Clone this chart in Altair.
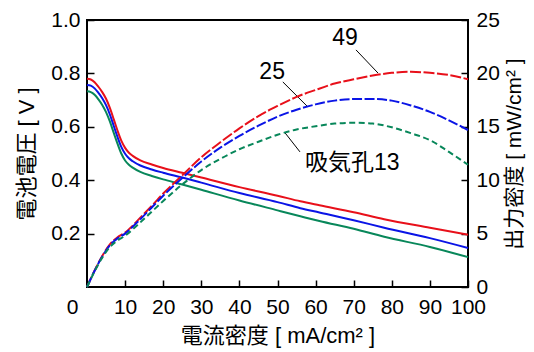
import altair as alt
import pandas as pd

FONT = "Liberation Sans, Arial, Noto Sans CJK JP, sans-serif"

series = ["49", "25", "13"]
colors = ["#e8101a", "#0a14e6", "#08875a"]
dashes = [[11, 2.5], [10, 2.5], [6, 3.5]]

current_v = [0, 1, 2, 3, 4, 5, 6, 7, 8, 9, 10, 11, 12, 14, 17, 20, 25, 30, 40, 50, 56, 61, 70, 78, 90, 100]
volt_49 = [0.780, 0.777, 0.767, 0.750, 0.730, 0.705, 0.671, 0.629, 0.586, 0.548, 0.521, 0.503, 0.491, 0.474,
           0.459, 0.446, 0.428, 0.410, 0.374, 0.342, 0.321, 0.306, 0.280, 0.254, 0.222, 0.196]
volt_25 = [0.757, 0.754, 0.744, 0.727, 0.707, 0.681, 0.646, 0.604, 0.562, 0.525, 0.499, 0.482, 0.471, 0.455,
           0.440, 0.428, 0.410, 0.391, 0.352, 0.318, 0.295, 0.279, 0.250, 0.222, 0.183, 0.146]
volt_13 = [0.733, 0.730, 0.720, 0.703, 0.682, 0.655, 0.620, 0.578, 0.537, 0.500, 0.474, 0.458, 0.447, 0.431,
           0.416, 0.403, 0.384, 0.364, 0.324, 0.287, 0.265, 0.247, 0.218, 0.188, 0.150, 0.112]

current_p = [0, 2, 4, 6, 8, 10, 12, 14, 17, 20, 25, 30, 35, 40, 45, 50, 55, 60, 65, 70, 75, 80, 85, 90, 95, 100]
power_49 = [0, 1.55, 2.9, 4.0, 4.65, 5.1, 5.75, 6.5, 7.6, 8.75, 10.45, 12.15, 13.55, 14.85, 16.0, 16.95,
            17.8, 18.45, 19.05, 19.45, 19.8, 20.05, 20.15, 20.05, 19.85, 19.45]
power_25 = [0, 1.52, 2.85, 3.9, 4.55, 5.0, 5.65, 6.35, 7.45, 8.55, 10.2, 11.75, 13.05, 14.15, 15.1, 15.95,
            16.6, 17.1, 17.45, 17.6, 17.6, 17.45, 17.0, 16.4, 15.6, 14.7]
power_13 = [0, 1.47, 2.75, 3.75, 4.35, 4.8, 5.4, 6.05, 7.05, 8.05, 9.6, 10.95, 12.0, 12.9, 13.6, 14.25,
            14.75, 15.05, 15.3, 15.38, 15.3, 14.95, 14.4, 13.75, 12.65, 11.45]

label_text = ["49", "25", "吸気孔13"]
label_x = [67.7, 48.6, 69.6]
label_y = [0.933, 0.805, 0.464]
leader_x1 = [70.6, 51.4, 52.0]
leader_y1 = [0.888, 0.768, 0.577]
leader_x2 = [76.4, 58.0, 55.9]
leader_y2 = [0.801, 0.674, 0.506]

x_ticks = [0, 10, 20, 30, 40, 50, 60, 70, 80, 90, 100]
v_ticks = [0.2, 0.4, 0.6, 0.8, 1.0]
p_ticks = [0, 5, 10, 15, 20, 25]

nv = len(current_v)
npw = len(current_p)
volt_df = pd.DataFrame({
    "current": current_v * 3,
    "value": volt_49 + volt_25 + volt_13,
    "series": ["49"] * nv + ["25"] * nv + ["13"] * nv,
})
power_df = pd.DataFrame({
    "current": current_p * 3,
    "value": power_49 + power_25 + power_13,
    "series": ["49"] * npw + ["25"] * npw + ["13"] * npw,
})
label_df = pd.DataFrame({"text": label_text, "x": label_x, "y": label_y})
leader_df = pd.DataFrame({"x1": leader_x1, "y1": leader_y1, "x2": leader_x2, "y2": leader_y2})

xscale = alt.Scale(domain=[0, 100], nice=False, zero=False)
vscale = alt.Scale(domain=[0, 1], nice=False)
pscale = alt.Scale(domain=[0, 25], nice=False)

common = dict(
    labelFont=FONT, titleFont=FONT, labelFontSize=21,
    labelColor="black", titleColor="black", tickColor="black", tickWidth=1.5,
    titleFontWeight="normal", domain=False, grid=False, tickSize=7, offset=-7,
    labelFlush=False, labelOverlap=False,
)

x_axis = alt.Axis(
    values=x_ticks, title="電流密度 [ mA/cm² ]", labelPadding=9, titleFontSize=22,
    labelOffset={"condition": {"test": "datum.value === 0", "value": -15}, "value": 0},
    titlePadding=8, **common,
)
v_axis = alt.Axis(
    values=v_ticks, format=".1f", title="電池電圧 [ V ]", orient="left", titleFontSize=22,
    labelPadding=7, titlePadding=12, **common,
)
p_axis = alt.Axis(
    values=p_ticks, title="出力密度 [ mW/cm² ]", orient="right", titleFontSize=21,
    titleAngle=270, titleBaseline="top",
    labelPadding=8, titlePadding=4, **common,
)

color = alt.Color("series:N", scale=alt.Scale(domain=series, range=colors), legend=None)

volt_lines = alt.Chart(volt_df).mark_line(strokeWidth=2, interpolate="monotone").encode(
    x=alt.X("current:Q", scale=xscale, axis=x_axis),
    y=alt.Y("value:Q", scale=vscale, axis=v_axis),
    color=color,
    detail="series:N",
)

labels = alt.Chart(label_df).mark_text(
    fontSize=23, font=FONT, align="center", baseline="middle", color="black"
).encode(
    x=alt.X("x:Q", scale=xscale, axis=x_axis),
    y=alt.Y("y:Q", scale=vscale, axis=v_axis),
    text="text:N",
)

leaders = alt.Chart(leader_df).mark_rule(color="black", strokeWidth=1).encode(
    x=alt.X("x1:Q", scale=xscale, axis=x_axis),
    x2="x2:Q",
    y=alt.Y("y1:Q", scale=vscale, axis=v_axis),
    y2="y2:Q",
)

left_layer = alt.layer(volt_lines, leaders, labels)

power_lines = alt.Chart(power_df).mark_line(strokeWidth=2, interpolate="monotone").encode(
    x=alt.X("current:Q", scale=xscale, axis=x_axis),
    y=alt.Y("value:Q", scale=pscale, axis=p_axis),
    color=color,
    strokeDash=alt.StrokeDash("series:N", scale=alt.Scale(domain=series, range=dashes), legend=None),
    detail="series:N",
)

chart = alt.layer(left_layer, power_lines).resolve_scale(y="independent").properties(
    width=381, height=267,
    background="white",
    autosize=alt.AutoSizeParams(type="none"),
    padding={"left": 79, "top": 12, "right": 58, "bottom": 62},
).configure_view(
    stroke="black", strokeWidth=2
)

chart.save("out.html", embed_options={"renderer": "svg", "actions": False})
